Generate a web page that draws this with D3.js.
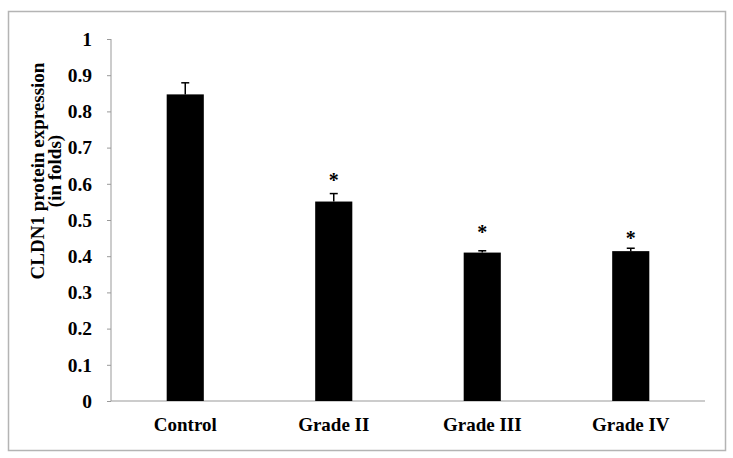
<!DOCTYPE html>
<html><head><meta charset="utf-8">
<script src="https://cdn.jsdelivr.net/npm/d3@7"></script>
<style>body{margin:0;background:#fff}svg{display:block}</style>
</head><body>
<script>
const categories = ["Control", "Grade II", "Grade III", "Grade IV"];
const values = [0.847, 0.551, 0.410, 0.414];
const errors = [0.032, 0.022, 0.005, 0.008];
const significant = [false, true, true, true];
const starLevels = [null, 0.619, 0.475, 0.459];
const yTicks = [0, 0.1, 0.2, 0.3, 0.4, 0.5, 0.6, 0.7, 0.8, 0.9, 1];
const yTitle = ["CLDN1 protein expression", "(in folds)"];

const W = 733, H = 458;
const svg = d3.select("body").append("svg").attr("width", W).attr("height", H);
const font = "'Liberation Serif','Times New Roman',serif";

svg.append("rect").attr("x", 8.5).attr("y", 11.5).attr("width", 717).attr("height", 439)
  .attr("fill", "none").attr("stroke", "#b4b4b4").attr("stroke-width", 1.5);

const x0 = 111, x1 = 705, yTop = 39, yBot = 401;
const x = d3.scaleBand().domain(categories).range([x0, x1]).paddingInner(0.75).paddingOuter(0.375);
const y = d3.scaleLinear().domain([0, 1]).range([yBot, yTop]);

// Y axis
const yAxis = svg.append("g").attr("transform", `translate(${x0},0)`)
  .call(d3.axisLeft(y).tickValues(yTicks).tickSize(4).tickPadding(15)
    .tickFormat(d => d === 0 ? "0" : d === 1 ? "1" : d3.format(".1f")(d)));
yAxis.select(".domain").attr("stroke", "#999").attr("d", `M0,${yTop}V${yBot}`);
yAxis.selectAll(".tick line").attr("stroke", "#999");
yAxis.selectAll(".tick text").attr("font-family", font).attr("font-weight", "bold")
  .attr("font-size", 19.5).attr("fill", "#000");

// X axis
const xAxis = svg.append("g").attr("transform", `translate(0,${yBot})`)
  .call(d3.axisBottom(x).tickSize(0).tickPadding(17));
xAxis.select(".domain").attr("stroke", "#999").attr("d", `M${x0},0H${x1}`);
xAxis.selectAll(".tick text").attr("font-family", font).attr("font-weight", "bold")
  .attr("font-size", 19).attr("fill", "#000");

// Bars
svg.selectAll("rect.bar").data(categories).enter().append("rect").attr("class", "bar")
  .attr("x", d => x(d)).attr("width", x.bandwidth())
  .attr("y", (d, i) => y(values[i])).attr("height", (d, i) => yBot - y(values[i]))
  .attr("fill", "#000");

// Error bars (upper)
const eb = svg.append("g").attr("stroke", "#000").attr("stroke-width", 1.5);
categories.forEach((c, i) => {
  const cx = x(c) + x.bandwidth() / 2;
  eb.append("line").attr("x1", cx).attr("x2", cx).attr("y1", y(values[i])).attr("y2", y(values[i] + errors[i]));
  eb.append("line").attr("x1", cx - 4).attr("x2", cx + 4).attr("y1", y(values[i] + errors[i])).attr("y2", y(values[i] + errors[i]));
});

// Asterisks
categories.forEach((c, i) => {
  if (!significant[i]) return;
  svg.append("text").attr("x", x(c) + x.bandwidth() / 2).attr("y", y(starLevels[i]) + 10)
    .attr("text-anchor", "middle").attr("font-family", font).attr("font-weight", "bold")
    .attr("font-size", 20).text("*");
});

// Y title
const t = svg.append("text").attr("transform", "translate(44,171) rotate(-90)")
  .attr("text-anchor", "middle").attr("font-family", font).attr("font-weight", "bold").attr("font-size", 19);
t.append("tspan").attr("x", 0).attr("y", 0).text(yTitle[0]);
t.append("tspan").attr("x", 0).attr("y", 17).text(yTitle[1]);
</script>
</body></html>
